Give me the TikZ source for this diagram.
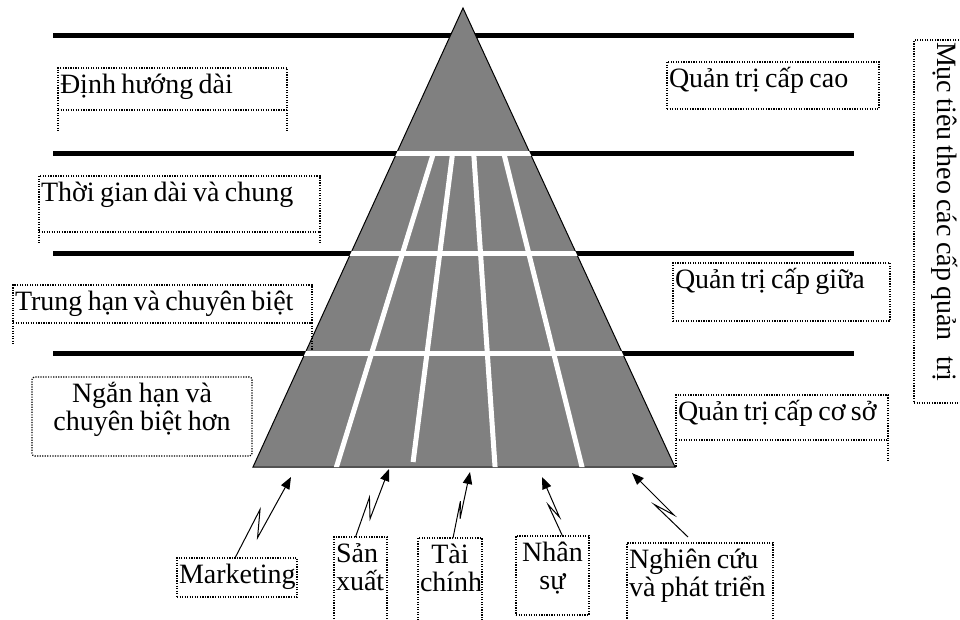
\documentclass[tikz,border=0pt]{standalone}
\usepackage{fontspec}
\setmainfont{Liberation Serif}
\usetikzlibrary{arrows.meta,calc}
\definecolor{pyr}{RGB}{128,128,128}

\begin{document}
\begin{tikzpicture}[x=0.75pt,y=-0.75pt,
  every node/.style={font=\fontsize{21}{21}\selectfont, inner xsep=1.5pt, inner ysep=1pt, outer sep=0pt},
  box/.style={draw, densely dotted, line width=0.9pt, align=left, anchor=north west,
    execute at begin node={\spaceskip=4pt plus 1pt minus 0.5pt\rule{0pt}{18pt}}},
  tail/.style={densely dotted, line width=0.9pt},
  level/.style={line width=3.75pt},
  cut/.style={white, line width=3.75pt},
  bolt/.style={to path={-- ($(\tikztostart)!0.55!(\tikztotarget)!#1!90:(\tikztotarget)$) -- ($(\tikztostart)!0.3!(\tikztotarget)!#1!-90:(\tikztotarget)$) -- (\tikztotarget)}},
  link/.style={line width=0.75pt, -{Triangle[length=9pt,width=7pt]}}]
\useasboundingbox (0,0) rectangle (960,619);
\clip (0,0) rectangle (960,619);

\foreach \y in {35,153,253,353}
  \draw[level] (53,\y) -- (854,\y);

\coordinate (apex) at (463,8);
\coordinate (bl) at (253,467);
\coordinate (br) at (675,467);
\filldraw[fill=pyr, line width=0.75pt] (apex) -- (bl) -- (br) -- cycle;
\begin{scope}
  \clip (apex) -- (bl) -- (br) -- cycle;
  \foreach \y in {153,253,353}
    \draw[cut] (200,\y) -- (720,\y);
  \foreach \xa/\xb/\yb in {433.5/334/475, 452.6/413.1/462, 473.7/495.6/475, 503.75/584/475}
    \draw[cut] (\xa,153) -- (\xb,\yb);
\end{scope}

\node (dinh) [box, text width=168.75pt, text depth=11.5pt] at (58,68) {Định hướng dài};
\draw[tail] (dinh.south west) -- ++(0,22) (dinh.south east) -- ++(0,22);
\node (tg) [box, text width=207.75pt, text depth=22pt] at (39,176) {Thời gian dài và chung};
\draw[tail] (tg.south west) -- ++(0,11) (tg.south east) -- ++(0,11);
\node (trung) [box, text width=221.25pt, text depth=8.5pt] at (13,285) {Trung hạn và chuyên biệt};
\draw[tail] (trung.south west) -- ++(0,22) (trung.south east) -- ++(0,27);
\node (ngan) [box, align=center, rounded corners=2pt, text width=162pt, text depth=39.25pt] at (32,377) {Ngắn hạn và\\chuyên biệt hơn};

\node (cao) [box, text width=156pt, text depth=15.25pt] at (667,62) {Quản trị cấp cao};
\node (giua) [box, text width=159.75pt, text depth=23.5pt] at (673,263) {Quản trị cấp giữa};
\node (coso) [box, text width=156pt, text depth=13.75pt] at (676,395) {Quản trị cấp cơ sở};
\draw[tail] (coso.south west) -- ++(0,27) (coso.south east) -- ++(0,21);
\node (goal) [box, rotate=-90, anchor=south west, text width=269.25pt, text height=30pt, text depth=16.25pt] at (914,40) {Mục tiêu theo các cấp quản\hspace{12pt}trị};

\node (mkt) [box, align=center, text width=87pt, text depth=9.25pt] at (177,558) {Marketing};
\node (sx) [box, text width=36.75pt, text depth=70pt] at (334,537) {Sản\\xuất};
\node (tc) [box, align=center, text width=45pt, text depth=70pt] at (418,538) {Tài\\chính};
\node (ns) [box, align=center, text width=51.75pt, text depth=39.25pt] at (516,536) {Nhân\\sự};
\node (ngc) [box, text width=106.5pt, text depth=70pt] at (627,543) {Nghiên cứu\\và phát triển};

\coordinate (s1) at ($(mkt.north)+(-2,0)$);
\coordinate (s2) at ($(sx.north)+(-5,0)$);
\coordinate (s3) at ($(tc.north)+(3,0)$);
\coordinate (s4) at ($(ns.north)+(10,0)$);
\coordinate (s5) at ($(ngc.north)+(-12,-6)$);
\coordinate (t1) at (291,477);
\coordinate (t2) at (389,469);
\coordinate (t3) at (470,472);
\coordinate (t4) at (542,477);
\coordinate (t5) at (632,473);

\draw[link] (s1) to[bolt=5.25pt] (t1);
\draw[link] (s2) to[bolt=3.75pt] (t2);
\draw[link] (s3) to[bolt=1.5pt] (t3);
\draw[link] (s4) to[bolt=2.5pt] (t4);
\draw[link] (s5) to[bolt=3pt] (t5);
\end{tikzpicture}
\end{document}
